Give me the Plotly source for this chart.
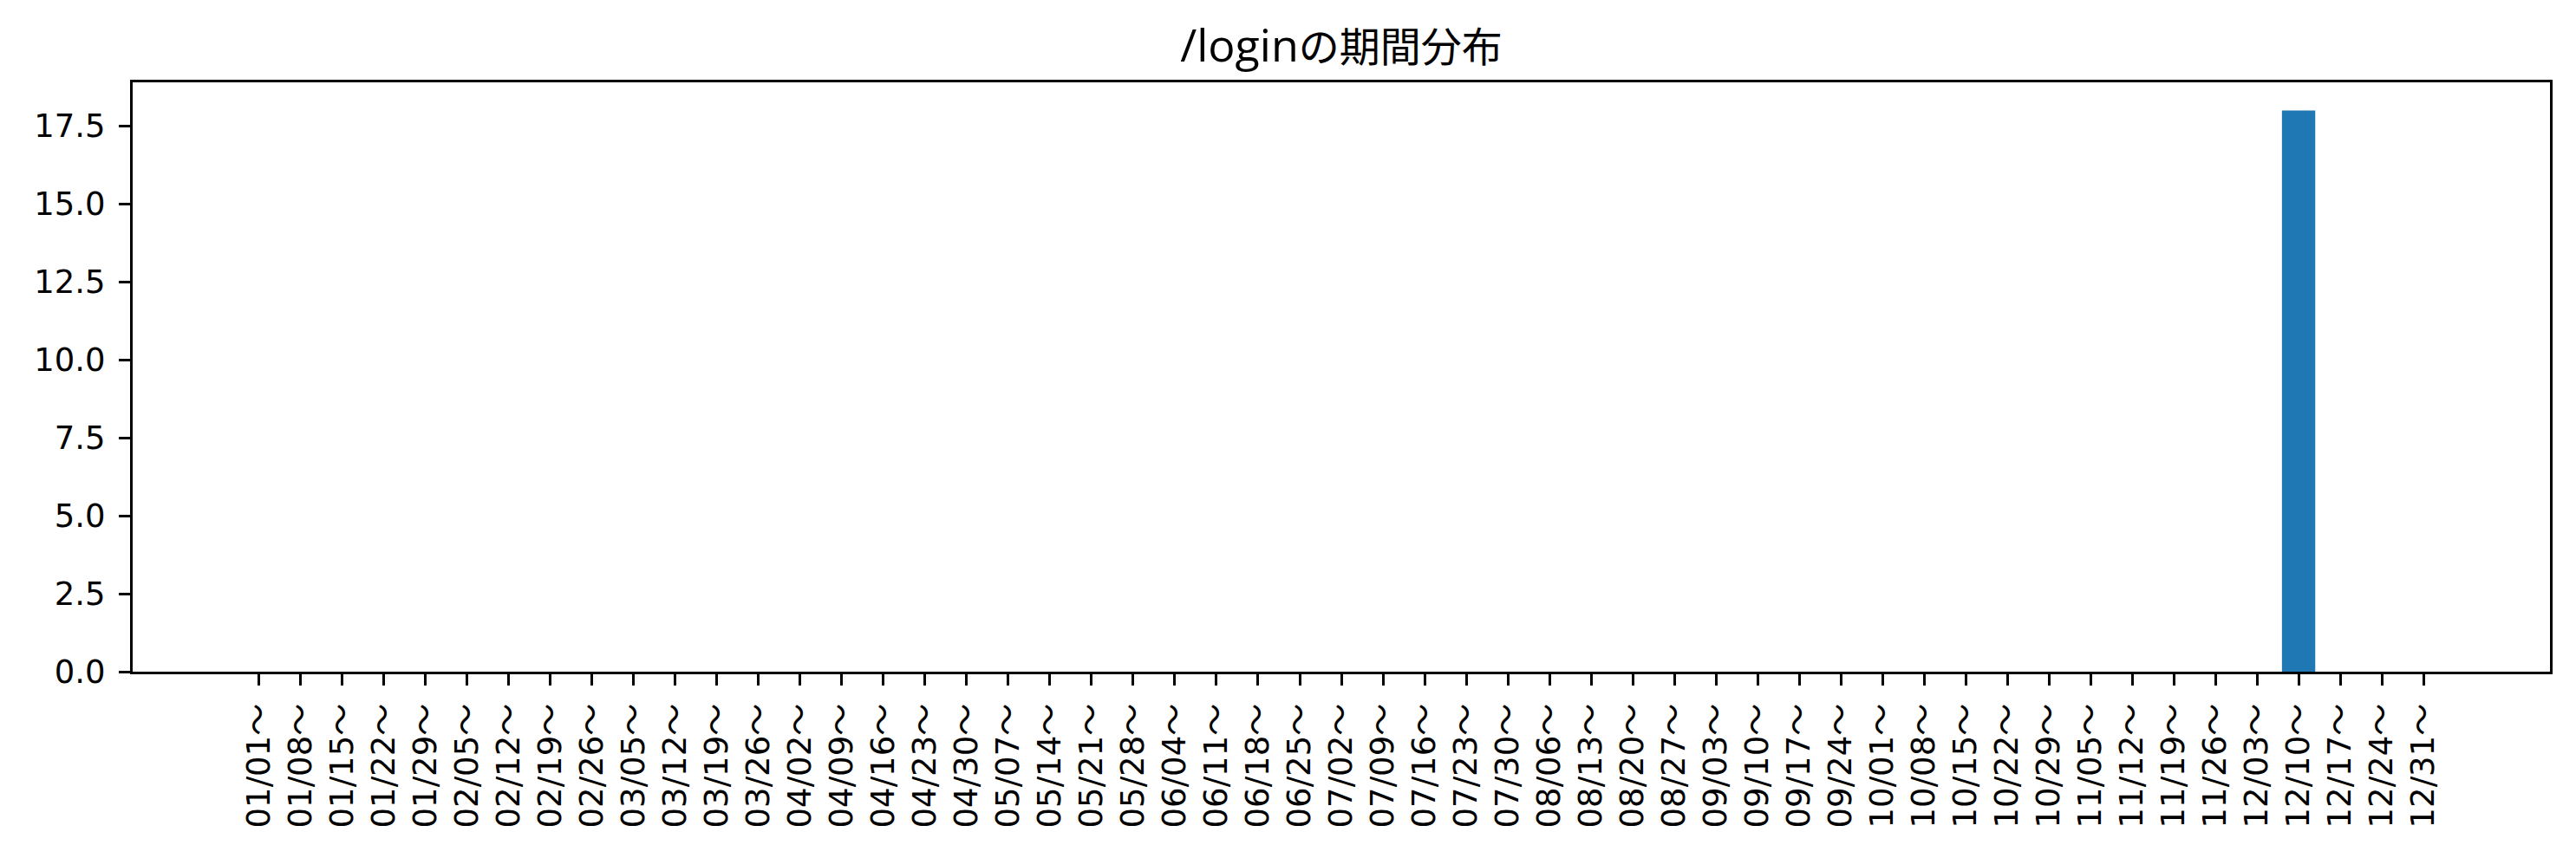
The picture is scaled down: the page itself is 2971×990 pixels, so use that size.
import plotly.graph_objects as go

weeks = ["01/01～", "01/08～", "01/15～", "01/22～", "01/29～", "02/05～", "02/12～", "02/19～",
         "02/26～", "03/05～", "03/12～", "03/19～", "03/26～", "04/02～", "04/09～", "04/16～",
         "04/23～", "04/30～", "05/07～", "05/14～", "05/21～", "05/28～", "06/04～", "06/11～",
         "06/18～", "06/25～", "07/02～", "07/09～", "07/16～", "07/23～", "07/30～", "08/06～",
         "08/13～", "08/20～", "08/27～", "09/03～", "09/10～", "09/17～", "09/24～", "10/01～",
         "10/08～", "10/15～", "10/22～", "10/29～", "11/05～", "11/12～", "11/19～", "11/26～",
         "12/03～", "12/10～", "12/17～", "12/24～", "12/31～"]
counts = [0, 0, 0, 0, 0, 0, 0, 0,
          0, 0, 0, 0, 0, 0, 0, 0,
          0, 0, 0, 0, 0, 0, 0, 0,
          0, 0, 0, 0, 0, 0, 0, 0,
          0, 0, 0, 0, 0, 0, 0, 0,
          0, 0, 0, 0, 0, 0, 0, 0,
          0, 18, 0, 0, 0]
title_latin = "/login"
title_cjk = "の期間分布"
y_ticks = [0, 2.5, 5, 7.5, 10, 12.5, 15, 17.5]

# the page body has an 8px default margin; size the figure to fill the window exactly
W, H = 2971 - 16, 990 - 16

fig = go.Figure(go.Bar(x=weeks, y=counts, marker=dict(color="#1f77b4", line=dict(width=0)), width=0.8))

axis_common = dict(showline=True, linecolor="black", linewidth=3, mirror=True,
                   ticks="outside", ticklen=13, tickwidth=3, tickcolor="black",
                   showgrid=False, zeroline=False,
                   tickfont=dict(family="DejaVu Sans, Noto Sans CJK JP", size=37, color="black"))

title_html = ("<span style='font-family:Open Sans;font-size:52px'>" + title_latin + "</span>"
              + title_cjk)

fig.update_layout(
    width=W, height=H,
    margin=dict(l=145, r=22, t=87, b=207),
    paper_bgcolor="white", plot_bgcolor="white",
    showlegend=False,
    title=dict(text=title_html, x=(145 + W - 22) / 2 / W, xanchor="center", y=1 - 47 / H, yanchor="middle",
               yref="container", font=dict(family="Noto Sans CJK JP", size=47, color="black")),
    xaxis=dict(type="category", range=[-3.04, 55.04], tickangle=-90, ticklabelstandoff=6, **axis_common),
    yaxis=dict(range=[0, 18.9], tickvals=y_ticks, tickformat=".1f", ticklabelstandoff=8, **axis_common),
)

fig.write_html("out.html")
